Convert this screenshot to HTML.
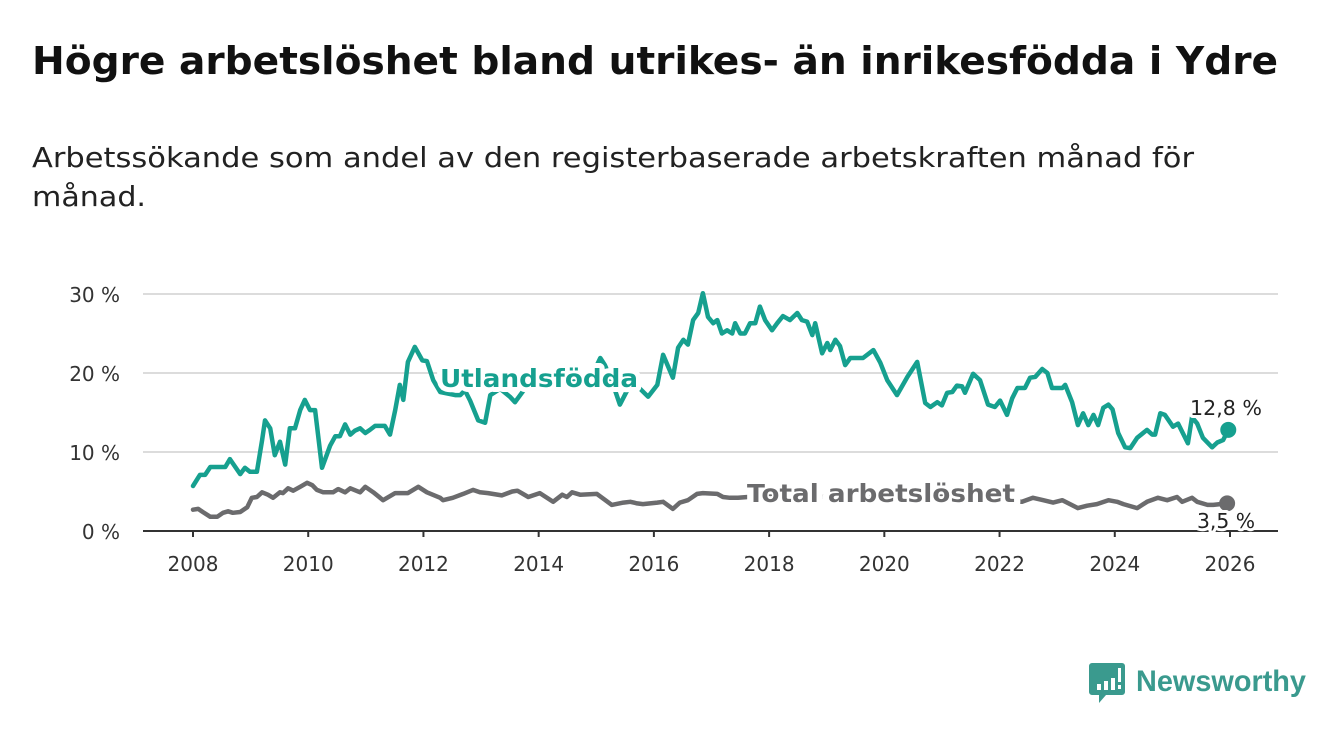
<!DOCTYPE html>
<html><head><meta charset="utf-8">
<style>
html,body{margin:0;padding:0;background:#fff;width:1340px;height:734px;overflow:hidden}
svg{display:block;font-family:"DejaVu Sans","Liberation Sans",sans-serif}
</style></head>
<body>
<svg id="chart" width="1340" height="734">
<text x="32" y="74" font-size="38" font-weight="bold" fill="#111" textLength="1246" lengthAdjust="spacingAndGlyphs">Högre arbetslöshet bland utrikes- än inrikesfödda i Ydre</text>
<text x="32" y="167" font-size="28" fill="#222" textLength="1162" lengthAdjust="spacingAndGlyphs">Arbetssökande som andel av den registerbaserade arbetskraften månad för</text>
<text x="32" y="206" font-size="28" fill="#222" textLength="114" lengthAdjust="spacingAndGlyphs">månad.</text>
<g id="grid"></g>
<g id="xaxis"></g>
<g id="series"></g>
<g id="labels"></g>
<g>
<path d="M1092 663 h30 a3 3 0 0 1 3 3 v26 a3 3 0 0 1 -3 3 h-16 l-7 8 v-8 h-7 a3 3 0 0 1 -3 -3 v-26 a3 3 0 0 1 3 -3z" fill="#3a9a8e"/>
<rect x="1097" y="684" width="4" height="6" fill="#fff"/><rect x="1104" y="681" width="4" height="9" fill="#fff"/><rect x="1111" y="678" width="4" height="12" fill="#fff"/><rect x="1118" y="668" width="3" height="14" fill="#fff"/><rect x="1118" y="685" width="3" height="4" fill="#fff"/>
<text x="1136" y="691" font-family="Liberation Sans, sans-serif" font-size="30" font-weight="bold" fill="#3a9a8e" textLength="170" lengthAdjust="spacingAndGlyphs">Newsworthy</text>
</g>
</svg>
<script>
const yTicks=[0,10,20,30];
const yTickLabels=["0 %","10 %","20 %","30 %"];
const xTicks=[2008,2010,2012,2014,2016,2018,2020,2022,2024,2026];
const utlDates=[2008.00,2008.12,2008.21,2008.30,2008.56,2008.64,2008.82,2008.90,2008.99,2009.11,2009.20,2009.25,2009.34,2009.42,2009.51,2009.60,2009.68,2009.77,2009.86,2009.94,2010.03,2010.12,2010.24,2010.38,2010.47,2010.55,2010.64,2010.73,2010.81,2010.90,2010.99,2011.07,2011.16,2011.33,2011.42,2011.51,2011.59,2011.65,2011.73,2011.85,2011.98,2012.06,2012.17,2012.29,2012.55,2012.64,2012.72,2012.81,2012.95,2013.07,2013.16,2013.33,2013.50,2013.59,2013.76,2014.02,2014.37,2014.72,2014.98,2015.07,2015.15,2015.27,2015.41,2015.55,2015.76,2015.90,2016.06,2016.16,2016.33,2016.42,2016.51,2016.59,2016.68,2016.77,2016.85,2016.94,2017.03,2017.10,2017.18,2017.27,2017.36,2017.41,2017.50,2017.58,2017.67,2017.76,2017.84,2017.93,2018.05,2018.14,2018.24,2018.36,2018.49,2018.57,2018.66,2018.75,2018.80,2018.92,2019.01,2019.06,2019.15,2019.23,2019.32,2019.41,2019.63,2019.81,2019.93,2020.05,2020.22,2020.40,2020.57,2020.71,2020.80,2020.92,2021.00,2021.09,2021.18,2021.26,2021.35,2021.40,2021.54,2021.66,2021.80,2021.92,2022.01,2022.13,2022.22,2022.31,2022.44,2022.53,2022.62,2022.74,2022.83,2022.91,2023.09,2023.14,2023.26,2023.36,2023.45,2023.54,2023.63,2023.71,2023.80,2023.89,2023.96,2024.06,2024.18,2024.27,2024.39,2024.56,2024.65,2024.70,2024.79,2024.87,2025.01,2025.10,2025.27,2025.34,2025.43,2025.53,2025.69,2025.78,2025.88,2025.97];
const utlValues=[5.7,7.1,7.1,8.1,8.1,9.1,7.2,8.0,7.5,7.5,11.5,14,13,9.6,11.3,8.4,13,13,15.3,16.6,15.3,15.3,8,10.8,12,12,13.5,12.2,12.7,13,12.4,12.8,13.3,13.3,12.2,15.3,18.5,16.6,21.4,23.3,21.6,21.5,19.1,17.6,17.2,17.2,17.8,16.5,14,13.7,17.2,18,17,16.3,18,18.5,18.5,19.5,20.5,21.9,21,19,16,18,18,17,18.5,22.3,19.4,23.2,24.2,23.6,26.7,27.6,30.1,27.1,26.3,26.7,25,25.4,25,26.3,25,25,26.3,26.3,28.4,26.7,25.4,26.3,27.2,26.7,27.6,26.7,26.5,24.8,26.3,22.5,23.8,22.9,24.2,23.4,21,21.9,21.9,22.9,21.3,19.1,17.2,19.5,21.4,16.2,15.7,16.3,15.9,17.5,17.6,18.4,18.3,17.5,19.9,19.1,16,15.7,16.5,14.7,16.8,18.1,18.1,19.4,19.5,20.5,20,18.1,18.1,18.5,16.3,13.4,14.9,13.4,14.7,13.4,15.6,16,15.4,12.4,10.6,10.5,11.8,12.8,12.2,12.2,14.9,14.7,13.2,13.6,11.1,14.4,13.6,11.8,10.6,11.2,11.5,12.8];
const totDates=[2008.00,2008.09,2008.17,2008.30,2008.42,2008.52,2008.61,2008.69,2008.82,2008.94,2009.02,2009.11,2009.20,2009.30,2009.39,2009.51,2009.56,2009.65,2009.74,2009.86,2009.98,2010.07,2010.15,2010.26,2010.43,2010.52,2010.64,2010.73,2010.90,2010.99,2011.13,2011.30,2011.51,2011.73,2011.91,2012.06,2012.29,2012.34,2012.51,2012.69,2012.86,2012.98,2013.12,2013.36,2013.54,2013.63,2013.82,2014.02,2014.25,2014.41,2014.49,2014.58,2014.72,2015.01,2015.27,2015.47,2015.59,2015.71,2015.81,2016.06,2016.16,2016.33,2016.45,2016.59,2016.75,2016.85,2017.10,2017.20,2017.32,2017.46,2017.80,2018.20,2018.60,2019.00,2019.50,2020.00,2020.40,2020.80,2021.30,2021.80,2022.20,2022.39,2022.58,2022.76,2022.93,2023.09,2023.36,2023.52,2023.69,2023.89,2024.04,2024.15,2024.39,2024.56,2024.75,2024.91,2025.08,2025.17,2025.34,2025.43,2025.61,2025.71,2025.95];
const totValues=[2.7,2.8,2.4,1.8,1.8,2.3,2.5,2.3,2.4,3.0,4.2,4.3,4.9,4.6,4.2,4.9,4.8,5.4,5.1,5.6,6.1,5.8,5.2,4.9,4.9,5.3,4.9,5.4,4.9,5.6,4.9,3.9,4.8,4.8,5.6,4.9,4.2,3.9,4.2,4.7,5.2,4.9,4.8,4.5,5.0,5.1,4.3,4.8,3.7,4.6,4.3,4.9,4.6,4.7,3.3,3.6,3.7,3.5,3.4,3.6,3.7,2.8,3.6,3.9,4.7,4.8,4.7,4.3,4.2,4.2,4.4,4.6,4.5,4.3,4.2,4.4,4.5,4.6,4.3,4.0,3.9,3.7,4.2,3.9,3.6,3.9,2.9,3.2,3.4,3.9,3.7,3.4,2.9,3.7,4.2,3.9,4.3,3.7,4.2,3.7,3.3,3.3,3.5];
const lastUtl="12,8 %", lastTot="3,5 %";

const NS="http://www.w3.org/2000/svg";
const X0=143,X1=1278;
function xs(d){return 193+(d-2008)*(1230-193)/18;}
function ys(v){return 531-v*7.9;}
function mk(tag,attrs,parent){const e=document.createElementNS(NS,tag);for(const k in attrs)e.setAttribute(k,attrs[k]);parent.appendChild(e);return e;}
const grid=document.getElementById('grid');
yTicks.forEach((t,i)=>{
  if(t>0){const l=mk('line',{x1:X0,x2:X1,y1:ys(t),y2:ys(t),stroke:'#dcdcdc','stroke-width':2},grid);
  
  }
  const tx=mk('text',{x:120,y:ys(t)+8,'text-anchor':'end','font-size':20,fill:'#333'},grid);
  tx.textContent=yTickLabels[i];
  
  
});
const xa=document.getElementById('xaxis');
const ax=mk('line',{x1:X0,x2:X1,y1:ys(0),y2:ys(0),stroke:'#333','stroke-width':2},xa);


xTicks.forEach(t=>{
  const tk=mk('line',{x1:xs(t),x2:xs(t),y1:ys(0),y2:ys(0)+6,stroke:'#333','stroke-width':2},xa);
  
  
  const tx=mk('text',{x:xs(t),y:571,'text-anchor':'middle','font-size':20,fill:'#333'},xa);
  tx.textContent=t;
  
  
});
const ser=document.getElementById('series');
function line(d,v,color,name){
  const p=d.map((x,i)=>(i?'L':'M')+xs(x).toFixed(1)+' '+ys(v[i]).toFixed(1)).join(' ');
  const e=mk('path',{d:p,fill:'none',stroke:color,'stroke-width':4.5,'stroke-linejoin':'round','stroke-linecap':'round'},ser);
  
  
  const c=mk('circle',{cx:xs(d[d.length-1]),cy:ys(v[v.length-1]),r:8,fill:color},ser);
  
  
}
line(totDates,totValues,'#6b6b6d','total-line');
line(utlDates,utlValues,'#16a08f','utlandsfodda-line');
const lb=document.getElementById('labels');
function lab(x,y,t,color,size,weight,name,len,halo){
  const a={x:x,y:y,fill:color,'font-size':size,'font-weight':weight,stroke:'#fff','stroke-width':halo,'paint-order':'stroke','stroke-linejoin':'round'};
  if(len){a.textLength=len;a.lengthAdjust='spacingAndGlyphs';}
  const e=mk('text',a,lb);e.textContent=t;
  
  
}
lab(440,387,'Utlandsfödda','#16a08f',25,'bold','utlandsfodda-label',198,10);
lab(747,502,'Total arbetslöshet','#6b6b6d',25,'bold','total-label',268,12);
lab(1190,415,lastUtl,'#222',20,'normal','utlandsfodda-end-value',72,6);
lab(1197,528,lastTot,'#222',20,'normal','total-end-value',58,6);
</script>
</body></html>
